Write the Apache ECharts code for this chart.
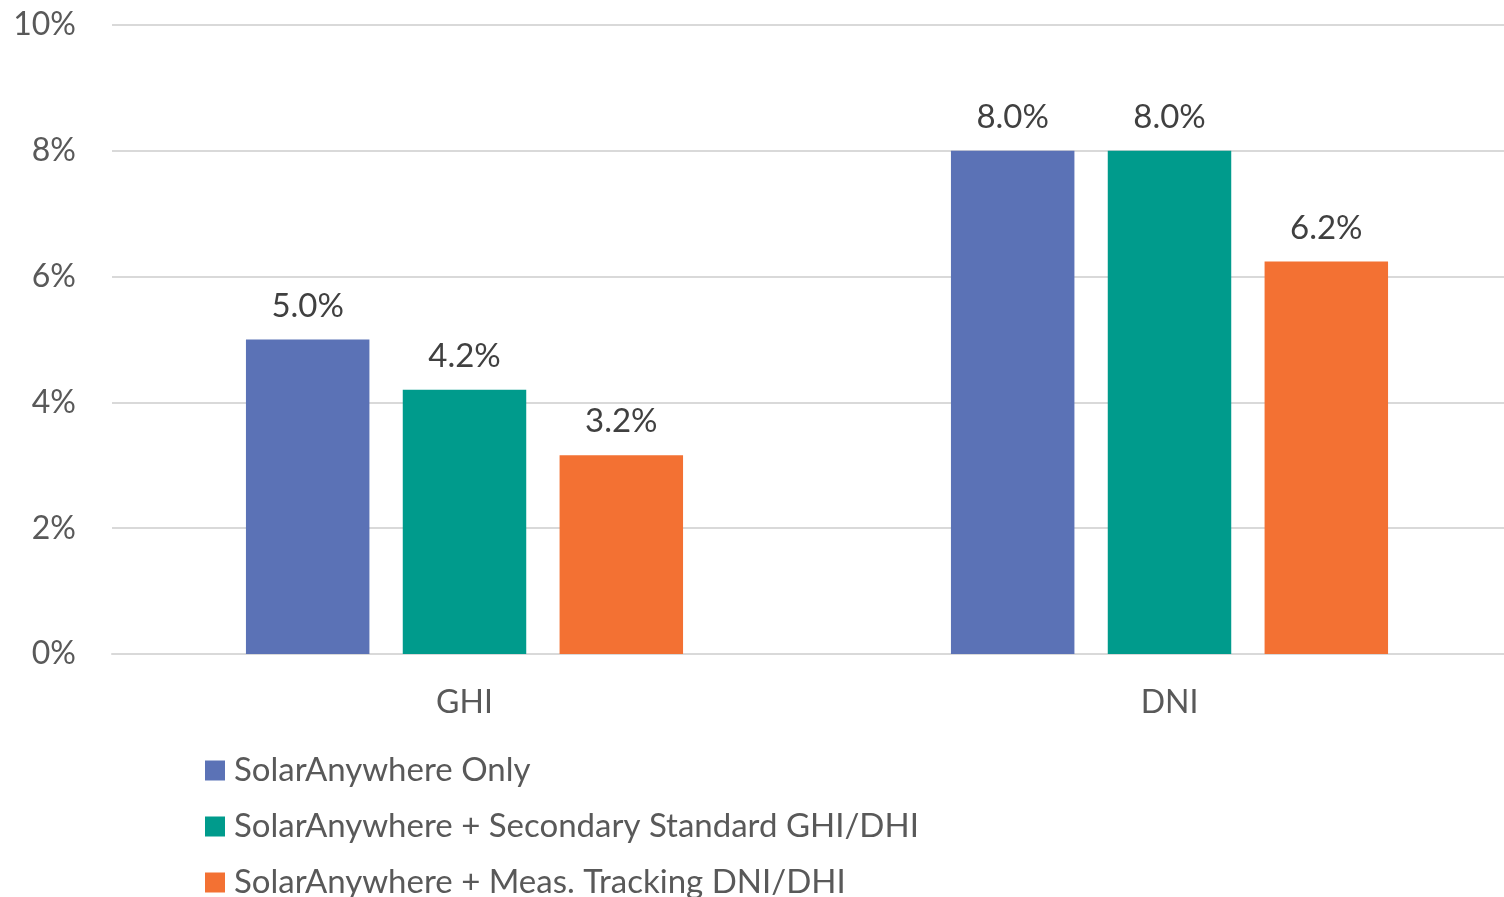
<!DOCTYPE html>
<html>
<head>
<meta charset="utf-8">
<script src="https://cdn.jsdelivr.net/npm/echarts@6/dist/echarts.min.js"></script>
<style>
  html, body { margin: 0; padding: 0; background: #fff; }
  #chart { width: 1504px; height: 897px; }
</style>
</head>
<body>
<div id="chart"></div>
<script>
// categories and series values (percent)
const categories = ['GHI', 'DNI'];
const seriesNames = [
  'SolarAnywhere Only',
  'SolarAnywhere + Secondary Standard GHI/DHI',
  'SolarAnywhere + Meas. Tracking DNI/DHI'
];
const saOnly = [5.0, 8.0];
const saSecondary = [4.2, 8.0];
const saTracking = [3.16, 6.24];
const colors = ['#5B72B6', '#009B8C', '#F37133'];

const font = 'Lato, "Open Sans", sans-serif';
const chart = echarts.init(document.getElementById('chart'));

const mkSeries = (name, data, i) => ({
  name: name,
  type: 'bar',
  data: data,
  barGap: '27%',
  barCategoryGap: '38%',
  itemStyle: { color: colors[i] },
  label: {
    show: true,
    position: 'top',
    distance: 17,
    color: '#404040',
    fontFamily: font,
    fontSize: 33,
    formatter: p => p.value.toFixed(1) + '%'
  }
});

chart.setOption({
  animation: false,
  textStyle: { fontFamily: font },
  // plot runs past the right edge of the picture, as in the original crop
  grid: { left: 112, top: 25, height: 629, width: 1410, outerBoundsMode: 'none' },
  legend: {
    orient: 'vertical',
    left: 200,
    top: 749,
    height: 300,
    itemWidth: 20,
    itemHeight: 20,
    itemGap: 23,
    icon: 'rect',
    textStyle: { color: '#595959', fontSize: 33, fontFamily: font, lineHeight: 33, padding: [0, 0, 0, 4] },
    data: seriesNames
  },
  xAxis: {
    type: 'category',
    data: categories,
    axisLine: { lineStyle: { color: '#D9D9D9', width: 2 } },
    axisTick: { show: false },
    axisLabel: { color: '#595959', fontSize: 32, fontFamily: font, margin: 33 }
  },
  yAxis: {
    type: 'value',
    min: 0,
    max: 10,
    interval: 2,
    axisLine: { show: false },
    axisTick: { show: false },
    splitLine: { lineStyle: { color: '#D9D9D9', width: 2 } },
    axisLabel: { color: '#595959', fontSize: 32, fontFamily: font, margin: 36, formatter: '{value}%' }
  },
  series: [
    mkSeries(seriesNames[0], saOnly, 0),
    mkSeries(seriesNames[1], saSecondary, 1),
    mkSeries(seriesNames[2], saTracking, 2)
  ]
});
</script>
</body>
</html>
